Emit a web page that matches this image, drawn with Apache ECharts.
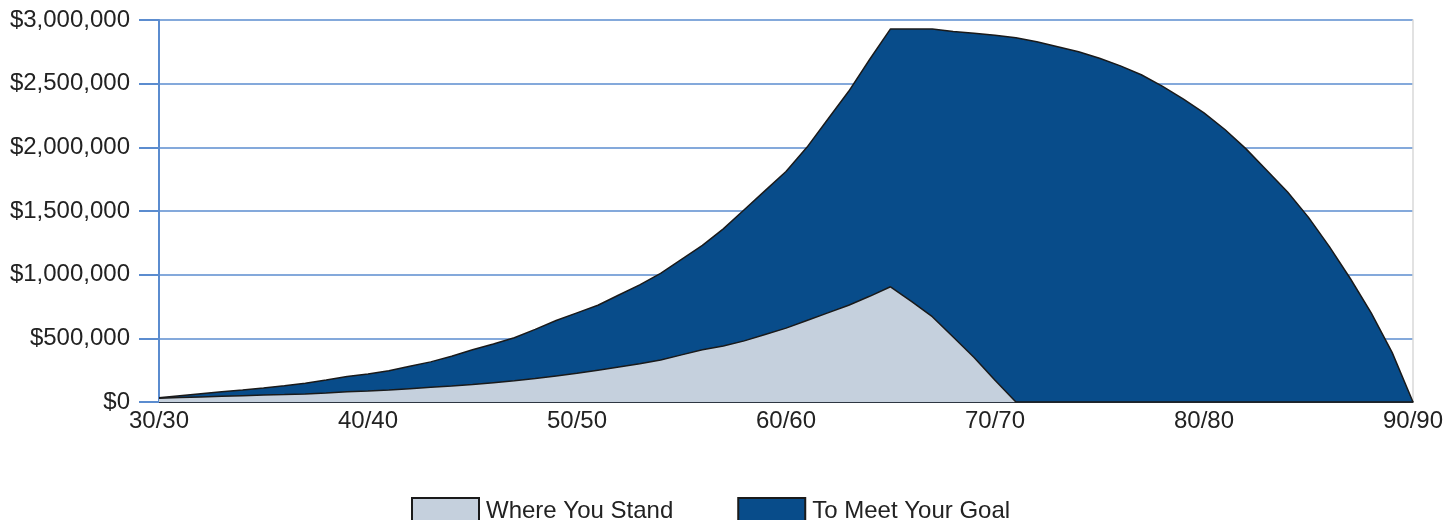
<!DOCTYPE html>
<html>
<head>
<meta charset="utf-8">
<script src="https://cdn.jsdelivr.net/npm/echarts@6/dist/echarts.min.js"></script>
<style>
html,body{margin:0;padding:0;background:#fff;}
#chart{width:1456px;height:520px;}
</style>
</head>
<body>
<div id="chart"></div>
<script>
// Ages 30..90 (labels "30/30" ... "90/90")
const ages = [];
for (let a = 30; a <= 90; a++) ages.push(a + '/' + a);

const seriesNames = ['Where You Stand', 'To Meet Your Goal'];

// To Meet Your Goal (values in $), ages 30..90
const goalValues = [
  34000, 50000, 65000, 80000, 94000, 110000, 128000, 148000, 172000, 200000,
  220000, 245000, 280000, 315000, 360000, 410000, 455000, 505000, 570000, 640000,
  700000, 760000, 840000, 920000, 1010000, 1120000, 1230000, 1360000, 1510000, 1660000,
  1810000, 2000000, 2220000, 2440000, 2690000, 2930000, 2930000, 2930000, 2910000, 2895000,
  2880000, 2860000, 2830000, 2790000, 2750000, 2700000, 2640000, 2570000, 2480000, 2380000,
  2270000, 2140000, 1990000, 1820000, 1650000, 1450000, 1220000, 970000, 700000, 390000,
  0
];

// Where You Stand (values in $), ages 30..90
const standValues = [
  30000, 35000, 40000, 45000, 50000, 54000, 58000, 63000, 70000, 80000,
  86000, 94000, 105000, 116000, 126000, 138000, 152000, 166000, 185000, 205000,
  225000, 250000, 275000, 300000, 330000, 370000, 410000, 440000, 480000, 530000,
  580000, 640000, 700000, 760000, 830000, 905000, 790000, 670000, 510000, 350000,
  170000, 0, 0, 0, 0, 0, 0, 0, 0, 0,
  0, 0, 0, 0, 0, 0, 0, 0, 0, 0,
  0
];

const yTicks = { min: 0, max: 3000000, interval: 500000 };

const chart = echarts.init(document.getElementById('chart'));
const font = 'Liberation Sans, Arial, sans-serif';
chart.setOption({
  animation: false,
  textStyle: { fontFamily: font },
  grid: { left: 159, right: 43, top: 20, bottom: 118 },
  legend: {
    data: seriesNames,
    left: 406,
    top: 492,
    icon: 'rect',
    itemWidth: 67,
    itemHeight: 27,
    itemGap: 64,
    textStyle: { fontSize: 24, color: '#222', fontFamily: font, padding: [2, 0, 0, 2] }
  },
  xAxis: {
    type: 'category',
    data: ages,
    boundaryGap: false,
    axisLine: { lineStyle: { color: '#111', width: 1.5 } },
    axisTick: { show: false },
    axisLabel: {
      interval: 9,
      fontSize: 24,
      color: '#222',
      margin: 7,
      fontFamily: font
    },
    splitLine: { show: false }
  },
  yAxis: [{
    type: 'value',
    min: yTicks.min,
    max: yTicks.max,
    interval: yTicks.interval,
    axisLine: { show: true, lineStyle: { color: '#5b8ccf', width: 2 } },
    axisTick: { show: true, length: 20, lineStyle: { color: '#5b8ccf', width: 2 } },
    axisLabel: {
      fontSize: 24,
      color: '#222',
      margin: 29,
      fontFamily: font,
      formatter: v => '$' + v.toLocaleString('en-US')
    },
    splitLine: { lineStyle: { color: '#5b8ccf', width: 1.5 } }
  }, {
    type: 'value',
    position: 'right',
    min: yTicks.min,
    max: yTicks.max,
    interval: yTicks.interval,
    axisLine: { show: true, lineStyle: { color: '#d9d9d9', width: 1.5 } },
    axisTick: { show: false },
    axisLabel: { show: false },
    splitLine: { show: false }
  }],
  series: [
    {
      name: seriesNames[1],
      type: 'line',
      data: goalValues,
      showSymbol: false,
      symbol: 'none',
      z: 2,
      lineStyle: { color: '#1a1a1a', width: 1.5 },
      itemStyle: { color: '#084c8a', borderColor: '#1a1a1a', borderWidth: 1.5 },
      areaStyle: { color: '#084c8a', opacity: 1 }
    },
    {
      name: seriesNames[0],
      type: 'line',
      data: standValues,
      showSymbol: false,
      symbol: 'none',
      z: 3,
      lineStyle: { color: '#1a1a1a', width: 1.5 },
      itemStyle: { color: '#c5d0dd', borderColor: '#1a1a1a', borderWidth: 1.5 },
      areaStyle: { color: '#c5d0dd', opacity: 1 }
    }
  ]
});
</script>
</body>
</html>
